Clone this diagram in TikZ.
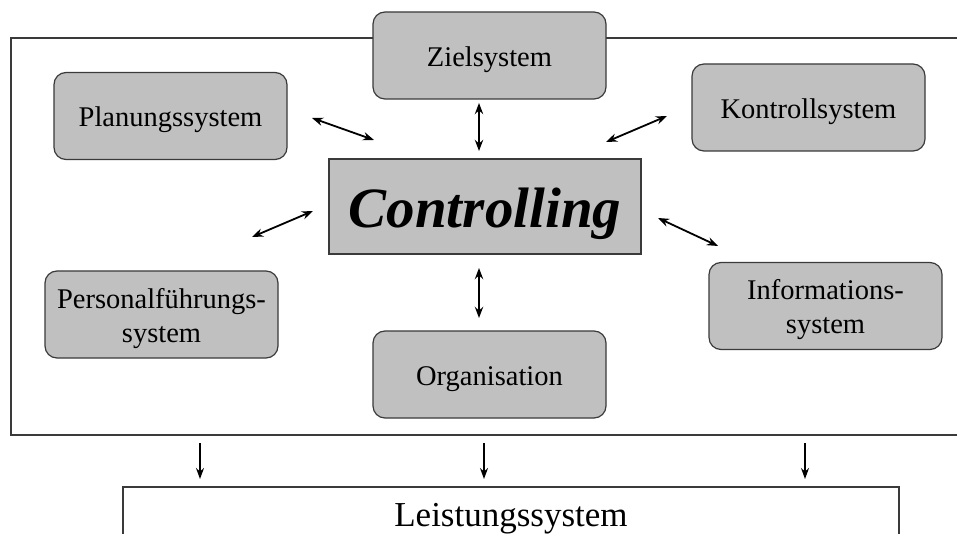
\documentclass[tikz,border=0pt]{standalone}
\usepackage{fontspec}
\setmainfont{Liberation Serif}
\usetikzlibrary{arrows.meta}
\definecolor{boxgray}{HTML}{C0C0C0}
\definecolor{edgegray}{HTML}{3A3A3A}
\begin{document}
\begin{tikzpicture}[x=1pt,y=-1pt,
  subsystem/.style={draw=edgegray,line width=1.2pt,fill=boxgray,rounded corners=12pt,
    minimum width=233pt,minimum height=87pt,inner sep=0pt,
    font=\fontsize{28.5}{34}\selectfont,align=center},
  oneline/.style={text height=22pt,text depth=0pt},
  twoline/.style={text height=55pt,text depth=0pt},
  core/.style={draw=edgegray,line width=1.2pt,fill=boxgray,
    minimum width=312pt,minimum height=95pt,inner sep=0pt,
    font=\fontsize{57}{60}\selectfont\bfseries\itshape,text height=43pt,text depth=0pt},
  link/.style={Stealth-Stealth,line width=1.8pt,>={Stealth[length=11pt,width=9pt]}},
  feed/.style={-{Stealth[length=11pt,width=8pt]},line width=1.4pt}]
\useasboundingbox (0,0) rectangle (957,534);
\fill[white] (0,0) rectangle (957,534);

% surrounding frame of the controlling environment (open to the right)
\draw[line width=1.2pt,edgegray] (960,38) -- (11,38) -- (11,435) -- (960,435);

% performance system below (open at the bottom)
\draw[line width=1.2pt,edgegray] (123,540) -- (123,487) -- (899,487) -- (899,540);
\node[font=\fontsize{35}{40}\selectfont,anchor=base] (leist) at (511,526) {Leistungssystem};

% subsystems
\node[subsystem,oneline] (ziel) at (489.5,55.5) {Zielsystem};
\node[subsystem,oneline] (plan) at (170.5,116) {Planungssystem};
\node[subsystem,oneline] (kontr) at (808.5,107.5) {Kontrollsystem};
\node[subsystem,twoline] (pers) at (161.5,314.5) {Personalführungs-\\system};
\node[subsystem,twoline] (info) at (825.5,306) {Informations-\\system};
\node[subsystem,oneline] (orga) at (489.5,374.5) {Organisation};
\node[core] (ctrl) at (485,206.5) {Controlling};

% arrow end points
\coordinate (p1) at (312,118); \coordinate (p2) at (374,140);
\coordinate (z1) at (479,103); \coordinate (z2) at (479,151);
\coordinate (k1) at (606,142); \coordinate (k2) at (667,116);
\coordinate (q1) at (252,237); \coordinate (q2) at (313,211);
\coordinate (i1) at (658,218); \coordinate (i2) at (718,246);
\coordinate (o1) at (479,268); \coordinate (o2) at (479,318);

\draw[link] (p1) -- (p2);
\draw[link] (z1) -- (z2);
\draw[link] (k1) -- (k2);
\draw[link] (q1) -- (q2);
\draw[link] (i1) -- (i2);
\draw[link] (o1) -- (o2);

% effect on the performance system
\coordinate (a1) at (200,443); \coordinate (a2) at (200,479);
\coordinate (b1) at (484,443); \coordinate (b2) at (484,479);
\coordinate (c1) at (805,443); \coordinate (c2) at (805,479);
\draw[feed] (a1) -- (a2);
\draw[feed] (b1) -- (b2);
\draw[feed] (c1) -- (c2);
\end{tikzpicture}
\end{document}
